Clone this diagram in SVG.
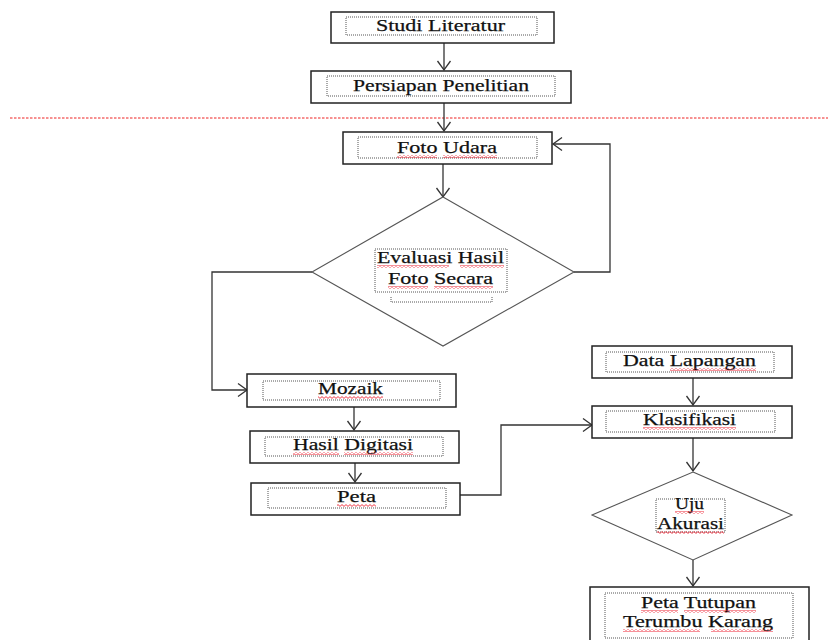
<svg xmlns="http://www.w3.org/2000/svg" width="828" height="640" viewBox="0 0 828 640">
<style>
.box{fill:#fff;stroke:#222;stroke-width:1.5}
.dot{fill:none;stroke:#555;stroke-width:1;stroke-dasharray:1 1}
.dia{fill:#fff;stroke:#555;stroke-width:1.1}
.lbl{font-family:"Liberation Serif","Times New Roman",serif;font-size:17px;fill:#111;stroke:#111;stroke-width:0.25}
.con{fill:none;stroke:#333;stroke-width:1.3}
.sq{fill:url(#wave)}
</style>
<defs>
<marker id="arr" markerUnits="userSpaceOnUse" markerWidth="14" markerHeight="16" refX="0" refY="0" viewBox="-11 -8 13 16" orient="auto">
<path d="M-9,-6.5 L0,0 L-9,6.5" fill="none" stroke="#333" stroke-width="1.3"/>
</marker>
<pattern id="wave" patternUnits="userSpaceOnUse" width="4" height="3">
<polyline points="0,2.4 2,0.6 4,2.4" fill="none" stroke="#e23" stroke-width="0.9"/>
</pattern>
</defs>
<rect width="828" height="640" fill="#fff"/>
<line x1="10" y1="118" x2="828" y2="118" stroke="#e22" stroke-width="1" stroke-dasharray="2.5 1.5"/>
<g id="connectors">
<line class="con" x1="444" y1="43" x2="444" y2="70" marker-end="url(#arr)"/>
<line class="con" x1="444" y1="103" x2="444" y2="131" marker-end="url(#arr)"/>
<line class="con" x1="443" y1="164" x2="443" y2="197" marker-end="url(#arr)"/>
<polyline class="con" points="574,272 610,272 610,144 553,144" marker-end="url(#arr)"/>
<polyline class="con" points="312,272 212,272 212,390 247,390" marker-end="url(#arr)"/>
<line class="con" x1="354" y1="407" x2="354" y2="430" marker-end="url(#arr)"/>
<line class="con" x1="355" y1="463" x2="355" y2="482" marker-end="url(#arr)"/>
<polyline class="con" points="460,495 501,495 501,425 592,425" marker-end="url(#arr)"/>
<line class="con" x1="693" y1="378" x2="693" y2="405" marker-end="url(#arr)"/>
<line class="con" x1="693" y1="438" x2="693" y2="471" marker-end="url(#arr)"/>
<line class="con" x1="693" y1="560" x2="693" y2="586" marker-end="url(#arr)"/>
</g>
<g id="studi">
<rect class="box" x="331" y="12" width="223" height="31"/>
<rect class="dot" x="346" y="17" width="191" height="18"/>
<text class="lbl" x="376" y="31" textLength="129" lengthAdjust="spacingAndGlyphs">Studi Literatur</text>
</g>
<g id="persiapan">
<rect class="box" x="311" y="71" width="260" height="32"/>
<rect class="dot" x="327" y="76" width="228" height="20"/>
<text class="lbl" x="353" y="91" textLength="176" lengthAdjust="spacingAndGlyphs">Persiapan  Penelitian</text>
</g>
<g id="foto">
<rect class="box" x="343" y="132" width="209" height="32"/>
<rect class="dot" x="358" y="137" width="179" height="21"/>
<text class="lbl" x="397" y="153" textLength="100" lengthAdjust="spacingAndGlyphs">Foto Udara</text>
<rect class="sq" x="397" y="155" width="40" height="3"/>
<rect class="sq" x="443" y="155" width="54" height="3"/>
</g>
<g id="evaluasi">
<polygon class="dia" points="443,197 574,272 443,346 312,272"/>
<rect class="dot" x="375" y="249" width="132" height="43"/>
<path class="dot" d="M391,297 V302 H492 V297"/>
<text class="lbl" x="377" y="263" textLength="127" lengthAdjust="spacingAndGlyphs">Evaluasi  Hasil</text>
<text class="lbl" x="388" y="284" textLength="105" lengthAdjust="spacingAndGlyphs">Foto Secara</text>
<rect class="sq" x="377" y="265" width="72" height="3"/>
<rect class="sq" x="460" y="265" width="44" height="3"/>
<rect class="sq" x="388" y="286" width="40" height="3"/>
<rect class="sq" x="434" y="286" width="59" height="3"/>
</g>
<g id="mozaik">
<rect class="box" x="247" y="374" width="209" height="33"/>
<rect class="dot" x="263" y="381" width="177" height="19"/>
<text class="lbl" x="318" y="394" textLength="65" lengthAdjust="spacingAndGlyphs">Mozaik</text>
<rect class="sq" x="318" y="396" width="65" height="3"/>
</g>
<g id="digitasi">
<rect class="box" x="250" y="431" width="209" height="32"/>
<rect class="dot" x="265" y="437" width="178" height="19"/>
<text class="lbl" x="293" y="450" textLength="120" lengthAdjust="spacingAndGlyphs">Hasil Digitasi</text>
<rect class="sq" x="293" y="452" width="46" height="3"/>
<rect class="sq" x="344" y="452" width="69" height="3"/>
</g>
<g id="peta">
<rect class="box" x="251" y="483" width="209" height="32"/>
<rect class="dot" x="268" y="488" width="178" height="20"/>
<text class="lbl" x="337" y="502" textLength="39" lengthAdjust="spacingAndGlyphs">Peta</text>
<rect class="sq" x="337" y="504" width="39" height="3"/>
</g>
<g id="lapangan">
<rect class="box" x="592" y="346" width="200" height="32"/>
<rect class="dot" x="606" y="352" width="168" height="20"/>
<text class="lbl" x="623" y="366" textLength="133" lengthAdjust="spacingAndGlyphs">Data Lapangan</text>
<rect class="sq" x="670" y="368" width="86" height="3"/>
</g>
<g id="klasifikasi">
<rect class="box" x="592" y="406" width="200" height="32"/>
<rect class="dot" x="606" y="411" width="169" height="21"/>
<text class="lbl" x="643" y="425" textLength="93" lengthAdjust="spacingAndGlyphs">Klasifikasi</text>
<rect class="sq" x="643" y="427" width="93" height="3"/>
</g>
<g id="akurasi">
<polygon class="dia" points="693,472 792,515 693,560 592,515"/>
<rect class="dot" x="656" y="499" width="69" height="33"/>
<text class="lbl" x="675" y="509" textLength="29" lengthAdjust="spacingAndGlyphs">Uju</text>
<text class="lbl" x="657" y="529" textLength="67" lengthAdjust="spacingAndGlyphs">Akurasi</text>
<rect class="sq" x="675" y="511" width="29" height="3"/>
<rect class="sq" x="657" y="531" width="67" height="3"/>
</g>
<g id="tutupan">
<rect class="box" x="590" y="587" width="219" height="60"/>
<rect class="dot" x="605" y="593" width="188" height="45"/>
<text class="lbl" x="641" y="608" textLength="115" lengthAdjust="spacingAndGlyphs">Peta Tutupan</text>
<text class="lbl" x="623" y="627" textLength="150" lengthAdjust="spacingAndGlyphs">Terumbu  Karang</text>
<rect class="sq" x="641" y="610" width="37" height="3"/>
<rect class="sq" x="684" y="610" width="72" height="3"/>
<rect class="sq" x="623" y="629" width="77" height="3"/>
<rect class="sq" x="711" y="629" width="62" height="3"/>
</g>
</svg>
